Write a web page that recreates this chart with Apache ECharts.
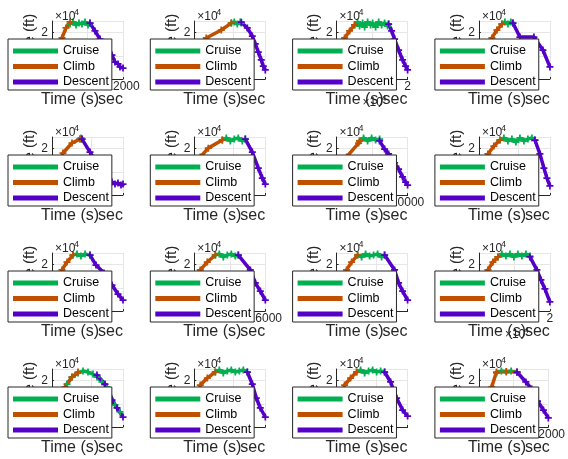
<!DOCTYPE html>
<html>
<head>
<meta charset="utf-8">
<script src="https://cdn.jsdelivr.net/npm/echarts@6/dist/echarts.min.js"></script>
<style>html,body{margin:0;padding:0;background:#fff}#c{width:568px;height:459px}</style>
</head>
<body>
<div id="c"></div>
<script>
// ---- data (time in s, altitude in ft) ----
const seriesNames = ['Cruise', 'Climb', 'Descent'];
const xLabel = 'Time (s)';
const xLabel2 = 'sec';
const yLabel = 'Altitude (ft)';

const xMax      = [12000, 18000, 20000, 18000, 18000, 18000, 10000, 18000, 18000, 16000, 18000, 20000, 18000, 18000, 18000, 12000];
const xInterval = [6000, 10000, 10000, 10000, 10000, 10000, 5000, 10000, 10000, 8000, 10000, 10000, 10000, 10000, 10000, 6000];
const xLabelShown = [true, false, true, false, false, false, true, false, false, true, false, true, false, false, false, true];

const climb11 = [[0,1300],[1690,17700],[2366,22000],[3042,24600]];
const cruise11 = [[3042,23700],[3549,24600],[4056,23300],[4563,24100],[5070,23700],[5577,24600],[6084,23300],[6422,24100]];
const descent11 = [[6422,24100],[7267,20700],[8112,17200],[10140,10300],[10647,7300],[11154,6500],[11492,5200],[12000,4700]];

const climb12 = [[0,2200],[3042,17700],[6845,21100],[9380,24100]];
const cruise12 = [[9380,24100],[10140,24600],[10901,23700],[11661,24600],[11915,24100]];
const descent12 = [[11915,24500],[13436,22000],[14703,18500],[15464,15100],[16224,11600],[16985,8200],[17493,5600],[18000,3900]];

const climb13 = [[0,2200],[2254,17700],[3662,20700],[5070,23300]];
const cruise13 = [[5070,23300],[5916,24600],[6479,22800],[7324,24100],[7887,22400],[8732,24600],[9577,23300],[10141,24100],[10986,22400],[11831,24600],[12676,23300],[13521,24100],[14366,22800],[14648,23700]];
const descent13 = [[14648,23700],[15493,20700],[16338,17200],[17465,12500],[18592,8200],[19437,5600],[20000,3900]];

const climb14 = [[0,2200],[3296,17700],[4563,21100],[5831,23700]];
const cruise14 = [[5831,23700],[6591,24600],[7352,23700],[8112,24600],[8619,24100]];
const descent14 = [[8619,24100],[10394,18100],[13943,18100],[16224,12500],[18000,5200]];

const climb21 = [[0,2200],[2789,18100],[5070,22400],[7098,24100]];
const cruise21 = [[7098,24100],[7352,24600],[7605,24100]];
const descent21 = [[7605,24100],[9633,18500],[12168,11600],[14196,6500],[15210,5600],[15971,4700],[16731,5200],[17492,4300],[18000,4700]];

const climb22 = [[0,2200],[1521,16400],[3549,20200],[7098,23700]];
const cruise22 = [[7098,23700],[8112,24600],[9126,23300],[10140,24100],[11154,24600],[12168,23300],[12929,24100]];
const descent22 = [[12929,24100],[14703,18500],[16224,11600],[17238,7300],[18000,4700]];

const climb23 = [[0,2200],[1408,16400],[3098,22400],[3239,23300]];
const cruise23 = [[3239,23300],[3802,24600],[4365,23300],[4928,24600],[5492,23700],[6055,24100]];
const descent23 = [[6055,23300],[6759,19800],[7322,17700],[8166,13800],[8730,11200],[9293,7800],[9715,5600],[10000,4300]];

const climb24 = [[0,2200],[2282,17700],[3803,21100],[5324,23700]];
const cruise24 = [[5324,23700],[6338,24600],[7352,23300],[8366,24100],[9380,22800],[10394,24600],[11408,23300],[12422,24100],[13436,24600],[14196,23700]];
const descent24 = [[14196,23700],[15464,17700],[16478,11600],[17238,7300],[18000,3900]];

const climb31 = [[0,2200],[2535,17700],[3803,21100],[5324,24100]];
const cruise31 = [[5324,24100],[6338,24600],[7352,23700],[8366,24600],[9633,24100]];
const descent31 = [[9633,24100],[11154,19800],[13182,16400],[15210,11200],[16731,7300],[18000,4700]];

const climb32 = [[0,2200],[1352,17700],[2930,21100],[4733,24100]];
const cruise32 = [[4733,24100],[5635,24600],[6537,23300],[7438,24100],[8340,24600],[9242,23700],[9918,24100]];
const descent32 = [[9918,24100],[12622,17700],[13749,12100],[14876,8600],[16000,4700]];

const climb33 = [[0,2200],[2535,17700],[3803,21100],[5324,24100]];
const cruise33 = [[5324,24100],[6338,23300],[7352,24600],[8366,23700],[9380,24100],[10394,24600],[11408,23300],[12168,24100]];
const descent33 = [[12168,24100],[14703,17700],[15717,12100],[16731,8600],[18000,4700]];

const climb34 = [[0,2200],[2535,17700],[3944,21100],[5352,23300]];
const cruise34 = [[5352,23300],[6479,24600],[7606,23700],[8733,24600],[9860,23300],[10986,24600],[12113,23700],[13240,24600],[14367,23700]];
const descent34 = [[14367,23300],[16339,17700],[17465,13400],[18592,9500],[20000,3900]];

const climb41 = [[0,2200],[3296,17200],[5070,21500],[6591,23700]];
const cruise41 = [[3803,18500],[5070,21500],[6591,23300],[7859,24100],[9126,23700],[10394,22800],[11408,21500],[12675,19400],[13943,17200],[15971,9500],[17238,6500]];
const descent41 = [[11408,22400],[13436,18500],[15210,11600],[16478,8200],[18000,4300]];

const climb42 = [[0,2200],[1521,18100],[3296,21100],[5324,23700]];
const cruise42 = [[5324,23700],[6338,24600],[7352,23300],[8366,24100],[9380,24600],[10394,23700],[11408,24100],[12422,24600],[13436,23700]];
const descent42 = [[13436,23700],[14703,18500],[15717,12500],[16731,8200],[18000,4300]];

const climb43 = [[0,2200],[2028,18100],[3549,21100],[5070,23700]];
const cruise43 = [[5070,23700],[6084,24600],[7098,23300],[8112,24100],[9126,24600],[10140,23700],[11154,24100],[12168,23700]];
const descent43 = [[12168,23700],[13689,19400],[15210,12500],[16731,7300],[18000,4700]];

const climb44 = [[0,2200],[2197,17200],[3042,23700],[4732,23900],[6591,23700]];
const cruise44 = [[3042,23300],[3887,24100],[4732,23700],[5577,24100],[6591,23500]];
const descent44 = [[6591,23700],[8112,19400],[9126,16400],[10140,11200],[11154,7300],[12000,3900]];

const cruiseAll = [cruise11,cruise12,cruise13,cruise14,cruise21,cruise22,cruise23,cruise24,cruise31,cruise32,cruise33,cruise34,cruise41,cruise42,cruise43,cruise44];
const climbAll = [climb11,climb12,climb13,climb14,climb21,climb22,climb23,climb24,climb31,climb32,climb33,climb34,climb41,climb42,climb43,climb44];
const descentAll = [descent11,descent12,descent13,descent14,descent21,descent22,descent23,descent24,descent31,descent32,descent33,descent34,descent41,descent42,descent43,descent44];

// ---- layout / style ----
const colX = [0, 142.3, 284.6, 426.9];
const rowY = [0, 116, 232, 348];
const colors = {Cruise: '#00B050', Climb: '#C05000', Descent: '#5400C8'};
const FONT = 'Liberation Sans, Arial, Helvetica, sans-serif';
const INK = '#262626';
const PLUS = 'path://M3,0H5V3H8V5H5V8H3V5H0V3H3Z';

const grids = [], xAxes = [], yAxes = [], series = [], legends = [], graphics = [];
for (let i = 0; i < 16; i++) {
  const r = Math.floor(i / 4), c = i % 4;
  const ox = colX[c], oy = rowY[r];
  const big = xMax[i] >= 20000;
  grids.push({left: ox + 52, top: oy + 21, width: 71, height: 58, containLabel: false});
  xAxes.push({
    type: 'value', gridIndex: i, min: 0, max: xMax[i], interval: xInterval[i],
    axisLine: {show: true, lineStyle: {color: INK, width: 1}},
    axisTick: {inside: true, length: 2, lineStyle: {color: INK}},
    axisLabel: {show: xLabelShown[i], fontSize: 12, fontFamily: FONT, color: INK, margin: 2,
      formatter: big ? (v => String(v / 10000)) : (v => String(v))},
    splitLine: {show: true, lineStyle: {color: '#e6e6e6', width: 1}}
  });
  yAxes.push({
    type: 'value', gridIndex: i, min: 0, max: 25000, interval: 10000,
    name: yLabel, nameLocation: 'middle', nameRotate: 90, nameGap: 15,
    nameTextStyle: {fontSize: 15, fontFamily: FONT, color: INK},
    axisLine: {show: true, lineStyle: {color: INK, width: 1}},
    axisTick: {inside: true, length: 2, lineStyle: {color: INK}},
    axisLabel: {fontSize: 12, fontFamily: FONT, color: INK, margin: 4, formatter: v => String(v / 10000)},
    splitLine: {show: true, lineStyle: {color: '#e6e6e6', width: 1}}
  });
  const sets = [['Cruise', cruiseAll[i]], ['Climb', climbAll[i]], ['Descent', descentAll[i]]];
  sets.forEach(([nm, d]) => {
    series.push({
      type: 'line', name: nm, xAxisIndex: i, yAxisIndex: i, data: d,
      color: colors[nm], lineStyle: {width: 3.5, color: colors[nm]},
      symbol: PLUS, symbolSize: 7, showSymbol: true, itemStyle: {color: colors[nm]},
      animation: false, silent: true
    });
  });
  legends.push({
    left: ox + 8, top: oy + 39, orient: 'vertical', data: seriesNames,
    icon: 'rect', itemWidth: 45, itemHeight: 5, itemGap: 1.5,
    padding: [5, 3, 1, 5], backgroundColor: '#ffffff', borderColor: INK, borderWidth: 1, borderRadius: 0,
    textStyle: {fontSize: 12.5, fontFamily: FONT, color: '#000', lineHeight: 14},
    selectedMode: false, z: 10
  });
  // y exponent
  graphics.push({type: 'text', left: ox + 55, top: oy + 11, z: 20, style: {text: '×10', font: '12px ' + FONT, fill: INK}});
  graphics.push({type: 'text', left: ox + 74, top: oy + 8, z: 20, style: {text: '4', font: '9px ' + FONT, fill: INK}});
  // x labels
  graphics.push({type: 'text', left: ox + 41, top: oy + 92, z: 20, style: {text: xLabel, font: '16px ' + FONT, fill: INK}});
  graphics.push({type: 'text', left: ox + 98, top: oy + 92, z: 20, style: {text: xLabel2, font: '16px ' + FONT, fill: INK}});
  if (big) {
    graphics.push({type: 'text', left: ox + 78, top: oy + 97, z: 21, style: {text: '×10', font: '12px ' + FONT, fill: INK}});
    graphics.push({type: 'text', left: ox + 97, top: oy + 94, z: 21, style: {text: '4', font: '9px ' + FONT, fill: INK}});
  }
}

const chart = echarts.init(document.getElementById('c'), null, {renderer: 'canvas'});
chart.setOption({
  backgroundColor: '#ffffff',
  animation: false,
  grid: grids, xAxis: xAxes, yAxis: yAxes, series: series, legend: legends,
  graphic: graphics
});
</script>
</body>
</html>
